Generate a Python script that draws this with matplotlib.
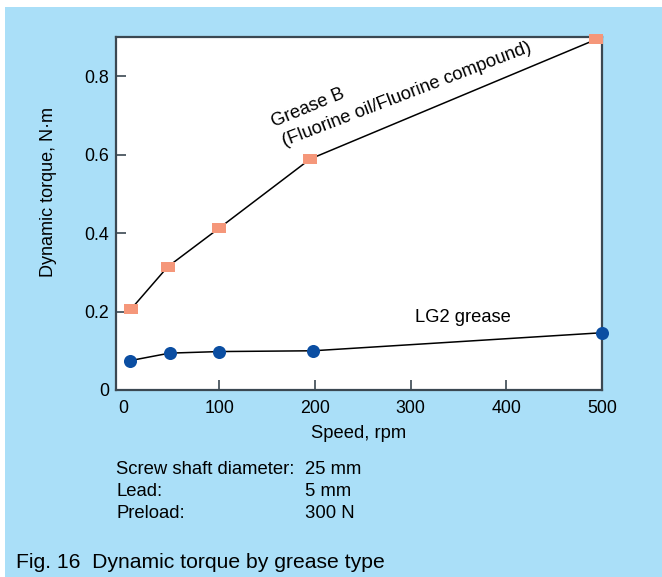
import matplotlib
matplotlib.use('Agg')
import matplotlib.pyplot as plt
from matplotlib.patches import Rectangle

plt.rcParams['font.family'] = ['Liberation Sans', 'DejaVu Sans']

# Grease B (fluorine oil / fluorine compound)
velocidade_b = [8, 46, 100, 195, 494]
torque_b = [0.207, 0.314, 0.413, 0.589, 0.894]

# LG2 grease
velocidade_lg2 = [7, 48, 100, 198, 500]
torque_lg2 = [0.075, 0.094, 0.098, 0.100, 0.146]

xticks = [0, 100, 200, 300, 400, 500]
yticks = [0, 0.2, 0.4, 0.6, 0.8]
ytick_labels = ['0', '0.2', '0.4', '0.6', '0.8']

condicoes = [('Screw shaft diameter:', '25 mm'),
             ('Lead:', '5 mm'),
             ('Preload:', '300 N')]

W, H = 662, 577
AZUL_FUNDO = '#aadff8'
EIXO = '#3b4852'

fig = plt.figure(figsize=(W / 100, H / 100), dpi=100)
fig.patch.set_facecolor('white')
fig.patches.append(Rectangle((5 / W, 0), 1, 1 - 7 / H, transform=fig.transFigure,
                             facecolor=AZUL_FUNDO, edgecolor='none', zorder=-10))

ax = fig.add_axes([116 / W, 1 - 390 / H, (602 - 116) / W, (390 - 37) / H])
ax.set_facecolor('white')

retangulo = [(-1, -0.7), (1, -0.7), (1, 0.7), (-1, 0.7)]
ax.plot(velocidade_b, torque_b, color='black', lw=1.1, zorder=2)
ax.plot(velocidade_b, torque_b, ls='none', marker=retangulo, markersize=9.6,
        markerfacecolor='#f5977a', markeredgewidth=0, clip_on=False, zorder=3)
ax.plot(velocidade_lg2, torque_lg2, color='black', lw=1.1, zorder=2)
ax.plot(velocidade_lg2, torque_lg2, ls='none', marker='o', markersize=9.4,
        markerfacecolor='#0b4ea2', markeredgewidth=0, clip_on=False, zorder=3)

ax.set_xlim(-8, 500)
ax.set_ylim(0, 0.9)
ax.set_xticks(xticks)
ax.set_yticks(yticks)
ax.set_yticklabels(ytick_labels)
ax.tick_params(direction='in', length=7, width=1.2, color=EIXO, labelsize=12.8)
ax.tick_params(axis='x', pad=7)
ax.tick_params(axis='y', pad=5)
ax.xaxis.get_major_ticks()[0].tick1line.set_visible(False)
ax.yaxis.get_major_ticks()[0].tick1line.set_visible(False)
for lado in ax.spines.values():
    lado.set_color(EIXO)
    lado.set_linewidth(1.6)

ax.set_xlabel('Speed, rpm', fontsize=13.2, labelpad=6)
ax.set_ylabel('Dynamic torque, N·m', fontsize=13)
ax.yaxis.set_label_coords(-0.121, 0.56)

ax.text(157, 0.67, 'Grease B', fontsize=13.2, rotation=22.5,
        rotation_mode='anchor', ha='left', va='baseline')
ax.text(168, 0.622, '(Fluorine oil/Fluorine compound)', fontsize=13.2,
        rotation=21, rotation_mode='anchor', ha='left', va='baseline')
ax.text(305, 0.186, 'LG2 grease', fontsize=13.2, ha='left', va='center')

for i, (nome, valor) in enumerate(condicoes):
    y = 1 - (469 + 22.5 * i) / H
    fig.text(116 / W, y, nome, fontsize=13.3, ha='left', va='center')
    fig.text(305 / W, y, valor, fontsize=13.3, ha='left', va='center')

fig.text(16 / W, 1 - 562 / H, 'Fig. 16  Dynamic torque by grease type',
         fontsize=15.2, ha='left', va='center')

plt.savefig('out.png', dpi=100)
plt.close()
